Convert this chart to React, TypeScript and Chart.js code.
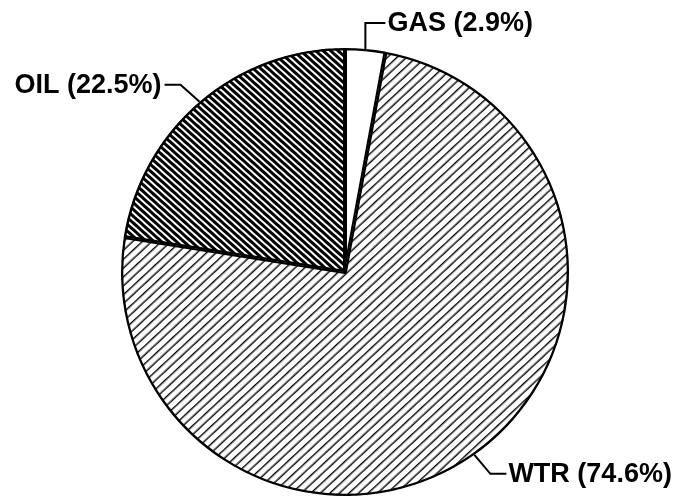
import React, { useEffect, useRef } from "react";
import { Chart, registerables } from "chart.js";

Chart.register(...registerables);

const categories = ["GAS", "WTR", "OIL"];
const shares = [2.9, 74.6, 22.5];
const labelTexts = ["GAS (2.9%)", "WTR (74.6%)", "OIL (22.5%)"];

// stripe pattern: tile with `count` horizontal lines, then rotated
function makePattern(tileH: number, count: number, lineW: number, angleDeg: number): CanvasPattern | string {
  const c = document.createElement("canvas");
  c.width = 4;
  c.height = tileH;
  const g = c.getContext("2d");
  if (!g) return "#fff";
  g.fillStyle = "#fff";
  g.fillRect(0, 0, 4, tileH);
  g.fillStyle = "#000";
  const sp = tileH / count;
  for (let k = 0; k < count; k++) {
    g.fillRect(0, k * sp, 4, lineW);
  }
  const p = g.createPattern(c, "repeat");
  if (!p) return "#fff";
  try {
    p.setTransform(new DOMMatrix().rotate(angleDeg));
  } catch (e) {
    /* ignore */
  }
  return p;
}

type Route = { ex: number; ey: number; hx: number; align: "left" | "right" };
const routes: Route[] = [
  { ex: 0, ey: -26, hx: 20, align: "left" },
  { ex: 16, ey: 19, hx: 16, align: "left" },
  { ex: -19, ey: -17, hx: -16, align: "right" },
];

const labelPlugin = {
  id: "leaderLabels",
  afterDraw(chart: any) {
    const ctx = chart.ctx as CanvasRenderingContext2D;
    const meta = chart.getDatasetMeta(0);
    ctx.save();
    ctx.strokeStyle = "#000";
    ctx.lineWidth = 2;
    ctx.fillStyle = "#000";
    ctx.font = "bold 27px 'Liberation Sans', Arial, sans-serif";
    ctx.textBaseline = "middle";
    meta.data.forEach((arc: any, i: number) => {
      const { x, y, startAngle, endAngle, outerRadius } = arc.getProps(
        ["x", "y", "startAngle", "endAngle", "outerRadius"],
        true
      );
      const mid = (startAngle + endAngle) / 2;
      const ax = x + Math.cos(mid) * outerRadius;
      const ay = y + Math.sin(mid) * outerRadius;
      const r = routes[i];
      const bx = ax + r.ex;
      const by = ay + r.ey;
      const hx = bx + r.hx;
      ctx.beginPath();
      ctx.moveTo(ax, ay);
      ctx.lineTo(bx, by);
      ctx.lineTo(hx, by);
      ctx.stroke();
      ctx.textAlign = r.align;
      const tx = r.align === "left" ? hx + 2 : hx - 3;
      ctx.fillText(labelTexts[i], tx, by + 1);
    });
    ctx.restore();
  },
};

export default function App() {
  const ref = useRef<HTMLCanvasElement | null>(null);
  useEffect(() => {
    if (!ref.current) return;
    const fills = [
      "#ffffff",
      makePattern(26, 4, 1.4, -43),
      makePattern(25, 5, 3, 42),
    ];
    const chart = new Chart(ref.current, {
      type: "pie",
      data: {
        labels: categories,
        datasets: [
          {
            data: shares,
            backgroundColor: fills as any,
            borderColor: "#000",
            borderWidth: 2,
            borderAlign: "inner",
          },
        ],
      },
      options: {
        responsive: false,
        animation: false,
        layout: { padding: { left: 121, right: 110, top: 48, bottom: 1 } },
        plugins: {
          legend: { display: false },
          tooltip: { enabled: false },
          title: { display: false },
        },
      },
      plugins: [labelPlugin],
    });
    return () => chart.destroy();
  }, []);
  return (
    <div style={{ position: "fixed", left: 0, top: 0, width: 679, height: 497, background: "#fff" }}>
      <canvas ref={ref} width={679} height={497} />
    </div>
  );
}
